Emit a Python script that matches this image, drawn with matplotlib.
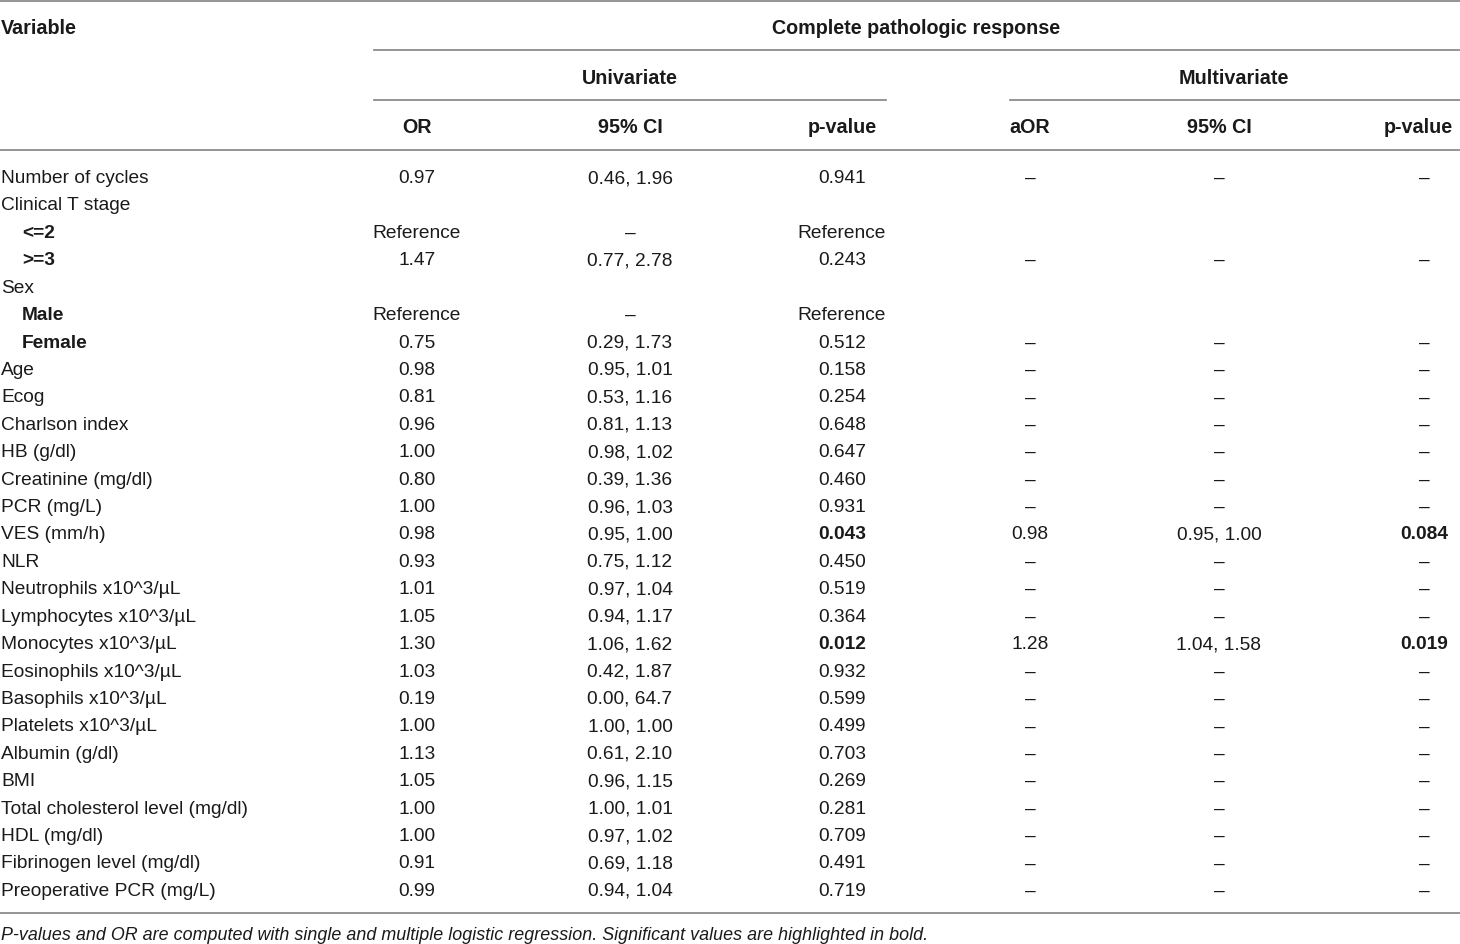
import matplotlib
matplotlib.use("Agg")
import matplotlib.pyplot as plt

plt.rcParams['font.family'] = ['Liberation Sans Narrow', 'Liberation Sans', 'DejaVu Sans']

# table content
variables = ["Number of cycles", "Clinical T stage", "<=2", ">=3", "Sex", "Male", "Female",
             "Age", "Ecog", "Charlson index", "HB (g/dl)", "Creatinine (mg/dl)", "PCR (mg/L)",
             "VES (mm/h)", "NLR", "Neutrophils x10^3/µL", "Lymphocytes x10^3/µL",
             "Monocytes x10^3/µL", "Eosinophils x10^3/µL", "Basophils x10^3/µL",
             "Platelets x10^3/µL", "Albumin (g/dl)", "BMI", "Total cholesterol level (mg/dl)",
             "HDL (mg/dl)", "Fibrinogen level (mg/dl)", "Preoperative PCR (mg/L)"]
sublevel = ["<=2", ">=3", "Male", "Female"]

uni_or = ["0.97", "", "Reference", "1.47", "", "Reference", "0.75", "0.98", "0.81", "0.96",
          "1.00", "0.80", "1.00", "0.98", "0.93", "1.01", "1.05", "1.30", "1.03", "0.19",
          "1.00", "1.13", "1.05", "1.00", "1.00", "0.91", "0.99"]
uni_ci = ["0.46, 1.96", "", "–", "0.77, 2.78", "", "–", "0.29, 1.73", "0.95, 1.01",
          "0.53, 1.16", "0.81, 1.13", "0.98, 1.02", "0.39, 1.36", "0.96, 1.03", "0.95, 1.00",
          "0.75, 1.12", "0.97, 1.04", "0.94, 1.17", "1.06, 1.62", "0.42, 1.87", "0.00, 64.7",
          "1.00, 1.00", "0.61, 2.10", "0.96, 1.15", "1.00, 1.01", "0.97, 1.02", "0.69, 1.18",
          "0.94, 1.04"]
uni_p = ["0.941", "", "Reference", "0.243", "", "Reference", "0.512", "0.158", "0.254",
         "0.648", "0.647", "0.460", "0.931", "0.043", "0.450", "0.519", "0.364", "0.012",
         "0.932", "0.599", "0.499", "0.703", "0.269", "0.281", "0.709", "0.491", "0.719"]
multi_aor = ["–", "", "", "–", "", "", "–", "–", "–", "–", "–", "–", "–", "0.98", "–", "–",
             "–", "1.28", "–", "–", "–", "–", "–", "–", "–", "–", "–"]
multi_ci = ["–", "", "", "–", "", "", "–", "–", "–", "–", "–", "–", "–", "0.95, 1.00", "–",
            "–", "–", "1.04, 1.58", "–", "–", "–", "–", "–", "–", "–", "–", "–"]
multi_p = ["–", "", "", "–", "", "", "–", "–", "–", "–", "–", "–", "–", "0.084", "–", "–",
           "–", "0.019", "–", "–", "–", "–", "–", "–", "–", "–", "–"]
bold_p = ["0.043", "0.012", "0.084", "0.019"]

footnote = ("P-values and OR are computed with single and multiple logistic regression. "
            "Significant values are highlighted in bold.")

W, H = 1460, 944
fig = plt.figure(figsize=(W / 100, H / 100), dpi=100)
ax = fig.add_axes([0, 0, 1, 1])
ax.set_xlim(0, W)
ax.set_ylim(H, 0)
ax.axis("off")

fs = 13.8
base = 7  # baseline offset below row centre, px
lc = "#8c8c8c"
lw = 1.3
tc = "#1a1a1a"

# rules
ax.plot([0, W], [1, 1], color=lc, lw=lw)
ax.plot([374, W], [50, 50], color=lc, lw=lw)
ax.plot([374, 886], [100, 100], color=lc, lw=lw)
ax.plot([1010, W], [100, 100], color=lc, lw=lw)
ax.plot([0, W], [150, 150], color=lc, lw=lw)
ax.plot([0, W], [913, 913], color=lc, lw=lw)

# header
hkw = dict(fontsize=14.2, fontweight="bold", va="baseline", color=tc)
ax.text(1, 27 + base, "Variable", ha="left", **hkw)
ax.text(916, 27 + base, "Complete pathologic response", ha="center", **hkw)
ax.text(630, 77 + base, "Univariate", ha="center", **hkw)
ax.text(1234, 77 + base, "Multivariate", ha="center", **hkw)
col_x = [417, 630, 842, 1030, 1219, 1424]
head_x = [417, 630, 842, 1030, 1219, 1418]
heads = ["OR", "95% CI", "p-value", "aOR", "95% CI", "p-value"]
for x, h in zip(head_x, heads):
    ax.text(x, 126 + base, h, ha="center", **hkw)

# body
y0, dy = 176, 27.42
cols = [uni_or, uni_ci, uni_p, multi_aor, multi_ci, multi_p]
for i, var in enumerate(variables):
    y = y0 + i * dy + base
    if var in sublevel:
        ax.text(22, y, var, ha="left", va="baseline", fontsize=fs, fontweight="bold", color=tc)
    else:
        ax.text(1, y, var, ha="left", va="baseline", fontsize=fs, color=tc)
    for j, col in enumerate(cols):
        s = col[i]
        if not s:
            continue
        wt = "bold" if (j in (2, 5) and s in bold_p) else "normal"
        ax.text(col_x[j], y, s, ha="center", va="baseline", fontsize=fs, fontweight=wt, color=tc)

ax.text(1, 933 + base, footnote, ha="left", va="baseline", fontsize=12.9,
        fontstyle="italic", color=tc)

fig.savefig("out.png", dpi=100, facecolor="white")
